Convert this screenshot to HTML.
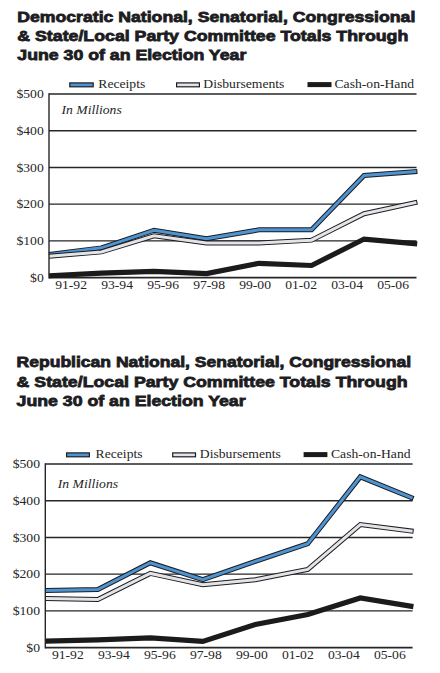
<!DOCTYPE html>
<html><head><meta charset="utf-8"><style>
html,body{margin:0;padding:0;background:#fff;width:440px;height:673px;overflow:hidden}
svg{display:block}
.t{font-family:"Liberation Sans",sans-serif;font-weight:bold;font-size:15px;fill:#1c1c22;stroke:#1c1c22;stroke-width:0.8px}
.l{font-family:"Liberation Serif",serif;font-size:13.5px;fill:#262626}
</style></head><body>
<svg width="440" height="673" viewBox="0 0 440 673">
<text x="17.3" y="22.3" class="t" textLength="398" lengthAdjust="spacingAndGlyphs">Democratic National, Senatorial, Congressional</text>
<text x="17.3" y="41.4" class="t" textLength="391" lengthAdjust="spacingAndGlyphs">&amp; State/Local Party Committee Totals Through</text>
<text x="17.3" y="60.3" class="t" textLength="229" lengthAdjust="spacingAndGlyphs">June 30 of an Election Year</text>
<rect x="69.8" y="82.89999999999999" width="23.399999999999995" height="3.9" fill="#4f93cf" stroke="#1b1d26" stroke-width="1.2"/>
<g transform="translate(98.30,87.50) scale(1.011,1)"><text x="0" y="0" class="l" text-anchor="start" >Receipts</text></g>
<rect x="176.6" y="82.89999999999999" width="22.8" height="3.9" fill="#e4e4e4" stroke="#1b1d26" stroke-width="1.2"/>
<g transform="translate(203.30,87.50) scale(1.011,1)"><text x="0" y="0" class="l" text-anchor="start" >Disbursements</text></g>
<rect x="307.5" y="82.1" width="24.0" height="5" fill="#1b1b1b"/>
<g transform="translate(334.50,87.50) scale(1.011,1)"><text x="0" y="0" class="l" text-anchor="start" >Cash-on-Hand</text></g>
<path d="M49 94.00 H416.5" stroke="#262626" stroke-width="1.4" fill="none"/>
<path d="M49 130.72 H416.5" stroke="#262626" stroke-width="1.4" fill="none"/>
<path d="M49 167.44 H416.5" stroke="#262626" stroke-width="1.4" fill="none"/>
<path d="M49 204.16 H416.5" stroke="#262626" stroke-width="1.4" fill="none"/>
<path d="M49 240.88 H416.5" stroke="#262626" stroke-width="1.4" fill="none"/>
<path d="M49 277.60 H416.5" stroke="#262626" stroke-width="1.7" fill="none"/>
<g transform="translate(43.70,98.30) scale(1.011,1)"><text x="0" y="0" class="l" text-anchor="end" >$500</text></g>
<g transform="translate(43.70,135.02) scale(1.011,1)"><text x="0" y="0" class="l" text-anchor="end" >$400</text></g>
<g transform="translate(43.70,171.74) scale(1.011,1)"><text x="0" y="0" class="l" text-anchor="end" >$300</text></g>
<g transform="translate(43.70,208.46) scale(1.011,1)"><text x="0" y="0" class="l" text-anchor="end" >$200</text></g>
<g transform="translate(43.70,245.18) scale(1.011,1)"><text x="0" y="0" class="l" text-anchor="end" >$100</text></g>
<g transform="translate(43.70,281.90) scale(1.011,1)"><text x="0" y="0" class="l" text-anchor="end" >$0</text></g>
<g transform="translate(61.50,114.00) scale(1.011,1)"><text x="0" y="0" class="l" text-anchor="start" font-style="italic">In Millions</text></g>
<g transform="translate(71.10,288.60) scale(1.011,1)"><text x="0" y="0" class="l" text-anchor="middle" >91-92</text></g>
<g transform="translate(117.10,288.60) scale(1.011,1)"><text x="0" y="0" class="l" text-anchor="middle" >93-94</text></g>
<g transform="translate(163.10,288.60) scale(1.011,1)"><text x="0" y="0" class="l" text-anchor="middle" >95-96</text></g>
<g transform="translate(209.10,288.60) scale(1.011,1)"><text x="0" y="0" class="l" text-anchor="middle" >97-98</text></g>
<g transform="translate(255.10,288.60) scale(1.011,1)"><text x="0" y="0" class="l" text-anchor="middle" >99-00</text></g>
<g transform="translate(301.10,288.60) scale(1.011,1)"><text x="0" y="0" class="l" text-anchor="middle" >01-02</text></g>
<g transform="translate(347.10,288.60) scale(1.011,1)"><text x="0" y="0" class="l" text-anchor="middle" >03-04</text></g>
<g transform="translate(393.10,288.60) scale(1.011,1)"><text x="0" y="0" class="l" text-anchor="middle" >05-06</text></g>
<polyline points="49.00,254.47 101.51,247.86 154.03,230.23 206.54,238.68 259.06,229.86 311.57,229.86 364.09,175.52 417.40,171.42" fill="none" stroke="#1b1d26" stroke-width="5.0" stroke-linejoin="miter"/>
<polyline points="49.00,254.47 101.51,247.86 154.03,230.23 206.54,238.68 259.06,229.86 311.57,229.86 364.09,175.52 416.40,171.49" fill="none" stroke="#4f93cf" stroke-width="3.0" stroke-linejoin="miter"/>
<polyline points="49.00,256.30 101.51,251.90 154.03,235.74 206.54,243.08 259.06,243.08 311.57,240.15 364.09,213.71 417.38,202.15" fill="none" stroke="#1b1d26" stroke-width="5.0" stroke-linejoin="miter"/>
<polyline points="49.00,256.30 101.51,251.90 154.03,235.74 206.54,243.08 259.06,243.08 311.57,240.15 364.09,213.71 416.40,202.37" fill="none" stroke="#e4e4e4" stroke-width="3.0" stroke-linejoin="miter"/>
<polyline points="49.00,275.76 101.51,273.19 154.03,271.36 206.54,273.56 259.06,263.28 311.57,265.48 364.09,239.04 417.20,243.87" fill="none" stroke="#1b1b1b" stroke-width="5.2" stroke-linejoin="miter"/>
<path d="M49 93.3 V278.45000000000005" stroke="#262626" stroke-width="1.4" fill="none"/>
<text x="16.6" y="367.4" class="t" textLength="394.5" lengthAdjust="spacingAndGlyphs">Republican National, Senatorial, Congressional</text>
<text x="16.6" y="387.1" class="t" textLength="391" lengthAdjust="spacingAndGlyphs">&amp; State/Local Party Committee Totals Through</text>
<text x="16.6" y="406.2" class="t" textLength="229" lengthAdjust="spacingAndGlyphs">June 30 of an Election Year</text>
<rect x="66.6" y="452.90000000000003" width="22.8" height="3.9" fill="#4f93cf" stroke="#1b1d26" stroke-width="1.2"/>
<g transform="translate(95.60,457.90) scale(1.011,1)"><text x="0" y="0" class="l" text-anchor="start" >Receipts</text></g>
<rect x="172.7" y="452.90000000000003" width="22.8" height="3.9" fill="#e4e4e4" stroke="#1b1d26" stroke-width="1.2"/>
<g transform="translate(199.80,457.90) scale(1.011,1)"><text x="0" y="0" class="l" text-anchor="start" >Disbursements</text></g>
<rect x="303.6" y="452.1" width="23.799999999999955" height="5" fill="#1b1b1b"/>
<g transform="translate(331.00,457.90) scale(1.011,1)"><text x="0" y="0" class="l" text-anchor="start" >Cash-on-Hand</text></g>
<path d="M45.3 464.00 H412.6" stroke="#262626" stroke-width="1.4" fill="none"/>
<path d="M45.3 500.72 H412.6" stroke="#262626" stroke-width="1.4" fill="none"/>
<path d="M45.3 537.44 H412.6" stroke="#262626" stroke-width="1.4" fill="none"/>
<path d="M45.3 574.16 H412.6" stroke="#262626" stroke-width="1.4" fill="none"/>
<path d="M45.3 610.88 H412.6" stroke="#262626" stroke-width="1.4" fill="none"/>
<path d="M45.3 647.60 H412.6" stroke="#262626" stroke-width="1.7" fill="none"/>
<g transform="translate(40.00,468.30) scale(1.011,1)"><text x="0" y="0" class="l" text-anchor="end" >$500</text></g>
<g transform="translate(40.00,505.02) scale(1.011,1)"><text x="0" y="0" class="l" text-anchor="end" >$400</text></g>
<g transform="translate(40.00,541.74) scale(1.011,1)"><text x="0" y="0" class="l" text-anchor="end" >$300</text></g>
<g transform="translate(40.00,578.46) scale(1.011,1)"><text x="0" y="0" class="l" text-anchor="end" >$200</text></g>
<g transform="translate(40.00,615.18) scale(1.011,1)"><text x="0" y="0" class="l" text-anchor="end" >$100</text></g>
<g transform="translate(40.00,651.90) scale(1.011,1)"><text x="0" y="0" class="l" text-anchor="end" >$0</text></g>
<g transform="translate(57.80,488.00) scale(1.011,1)"><text x="0" y="0" class="l" text-anchor="start" font-style="italic">In Millions</text></g>
<g transform="translate(67.80,658.60) scale(1.011,1)"><text x="0" y="0" class="l" text-anchor="middle" >91-92</text></g>
<g transform="translate(113.80,658.60) scale(1.011,1)"><text x="0" y="0" class="l" text-anchor="middle" >93-94</text></g>
<g transform="translate(159.80,658.60) scale(1.011,1)"><text x="0" y="0" class="l" text-anchor="middle" >95-96</text></g>
<g transform="translate(205.80,658.60) scale(1.011,1)"><text x="0" y="0" class="l" text-anchor="middle" >97-98</text></g>
<g transform="translate(251.80,658.60) scale(1.011,1)"><text x="0" y="0" class="l" text-anchor="middle" >99-00</text></g>
<g transform="translate(297.80,658.60) scale(1.011,1)"><text x="0" y="0" class="l" text-anchor="middle" >01-02</text></g>
<g transform="translate(343.80,658.60) scale(1.011,1)"><text x="0" y="0" class="l" text-anchor="middle" >03-04</text></g>
<g transform="translate(389.80,658.60) scale(1.011,1)"><text x="0" y="0" class="l" text-anchor="middle" >05-06</text></g>
<polyline points="45.30,590.46 97.80,589.58 150.30,562.78 202.80,579.67 255.30,561.31 307.80,543.68 360.30,476.85 413.54,498.45" fill="none" stroke="#1b1d26" stroke-width="5.0" stroke-linejoin="miter"/>
<polyline points="45.30,590.46 97.80,589.58 150.30,562.78 202.80,579.67 255.30,561.31 307.80,543.68 360.30,476.85 412.61,498.07" fill="none" stroke="#4f93cf" stroke-width="3.0" stroke-linejoin="miter"/>
<polyline points="45.30,598.40 97.80,599.50 150.30,573.43 202.80,584.81 255.30,579.67 307.80,569.39 360.30,524.59 413.59,531.30" fill="none" stroke="#1b1d26" stroke-width="5.0" stroke-linejoin="miter"/>
<polyline points="45.30,598.40 97.80,599.50 150.30,573.43 202.80,584.81 255.30,579.67 307.80,569.39 360.30,524.59 412.60,531.17" fill="none" stroke="#e4e4e4" stroke-width="3.0" stroke-linejoin="miter"/>
<polyline points="45.30,641.10 97.80,639.89 150.30,637.80 202.80,641.36 255.30,624.47 307.80,614.55 360.30,598.03 413.39,606.57" fill="none" stroke="#1b1b1b" stroke-width="5.2" stroke-linejoin="miter"/>
<path d="M45.3 463.3 V648.45" stroke="#262626" stroke-width="1.4" fill="none"/>
</svg>
</body></html>
